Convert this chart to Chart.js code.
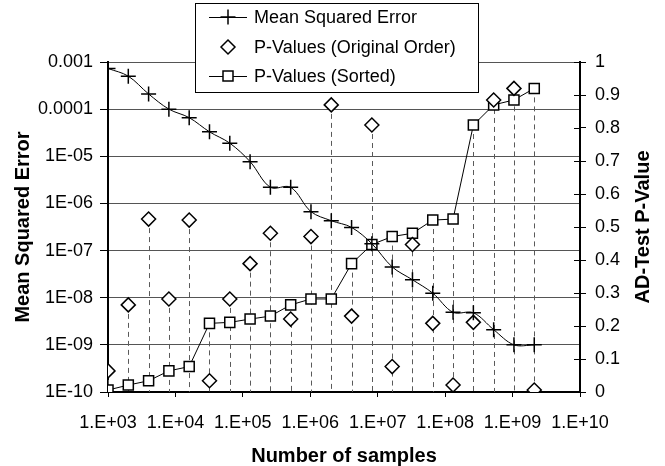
<!DOCTYPE html>
<html>
<head>
<meta charset="utf-8">
<script src="https://cdn.jsdelivr.net/npm/chart.js"></script>
<style>
	body { margin: 0; background: #fff; }
	#wrap { width: 665px; height: 466px; }
</style>
</head>
<body>
<div id="wrap"><canvas id="myChart" width="665" height="466"></canvas></div>
<script>
// number of samples (x)
const samples = [1000, 2000, 4000, 8000, 16000, 32000, 64000, 128000, 256000, 512000,
	1024000, 2048000, 4096000, 8192000, 16384000, 32768000, 65536000, 131072000,
	262144000, 524288000, 1048576000, 2097152000];

// left axis series
const mse = [7.3e-4, 5.0e-4, 2.1e-4, 1.0e-4, 6.6e-5, 3.3e-5, 1.9e-5, 7.7e-6, 2.2e-6, 2.2e-6,
	6.7e-7, 4.3e-7, 3.1e-7, 1.4e-7, 4.5e-8, 2.4e-8, 1.25e-8, 4.9e-9, 4.8e-9, 2.1e-9,
	1.0e-9, 1.0e-9];

// right axis series
const pOriginal = [0.064, 0.264, 0.524, 0.282, 0.521, 0.034, 0.282, 0.389, 0.481, 0.221,
	0.471, 0.870, 0.230, 0.809, 0.077, 0.447, 0.208, 0.021, 0.211, 0.885, 0.920, 0.006];
const pSorted = [0.006, 0.021, 0.034, 0.064, 0.077, 0.208, 0.211, 0.221, 0.230, 0.264,
	0.282, 0.282, 0.389, 0.447, 0.471, 0.481, 0.521, 0.524, 0.809, 0.870, 0.885, 0.920];

// tick values and labels
const xTicks = [1e3, 1e4, 1e5, 1e6, 1e7, 1e8, 1e9, 1e10];
const xTickLabels = ["1.E+03", "1.E+04", "1.E+05", "1.E+06", "1.E+07", "1.E+08", "1.E+09", "1.E+10"];
const yTicks = [1e-10, 1e-9, 1e-8, 1e-7, 1e-6, 1e-5, 1e-4, 1e-3];
const yTickLabels = ["1E-10", "1E-09", "1E-08", "1E-07", "1E-06", "1E-05", "0.0001", "0.001"];

const seriesNames = ["Mean Squared Error", "P-Values (Original Order)", "P-Values (Sorted)"];
const rightTitle = "AD-Test P-Value";

const FONT = "'Liberation Sans', Arial, sans-serif";

const toPoints = (ys) => ys.map((y, i) => ({ x: samples[i], y: y }));

// dashed drop lines from the higher p-value down to the axis
const dropLines = {
	id: "dropLines",
	beforeDatasetsDraw(chart) {
		const { ctx, scales } = chart;
		ctx.save();
		ctx.strokeStyle = "#5a5a5a";
		ctx.lineWidth = 1;
		ctx.setLineDash([5, 4]);
		samples.forEach((s, i) => {
			const px = Math.round(scales.x.getPixelForValue(s)) + 0.5;
			const top = scales.y2.getPixelForValue(Math.max(pOriginal[i], pSorted[i]));
			const bottom = scales.y2.getPixelForValue(0);
			ctx.beginPath();
			ctx.moveTo(px, top);
			ctx.lineTo(px, bottom);
			ctx.stroke();
		});
		ctx.restore();
	},
	afterDraw(chart) {
		const { ctx, scales } = chart;
		ctx.save();
		// inner half of the right axis tick marks
		ctx.strokeStyle = "#000";
		ctx.lineWidth = 1;
		scales.y2.ticks.forEach((t) => {
			const py = Math.round(scales.y2.getPixelForValue(t.value)) + 0.5;
			ctx.beginPath();
			ctx.moveTo(scales.y2.left - 6, py);
			ctx.lineTo(scales.y2.left, py);
			ctx.stroke();
		});
		// right axis title, reading upwards like the left one
		ctx.translate(643, (chart.chartArea.top + chart.chartArea.bottom) / 2);
		ctx.rotate(-Math.PI / 2);
		ctx.fillStyle = "#000";
		ctx.font = "bold 20px " + FONT;
		ctx.textAlign = "center";
		ctx.textBaseline = "middle";
		ctx.fillText(rightTitle, 0, 0);
		ctx.restore();
	},
};

function drawMarker(ctx, style, x, y) {
	ctx.beginPath();
	if (style === "cross") {
		ctx.moveTo(x - 7.5, y); ctx.lineTo(x + 7.5, y);
		ctx.moveTo(x, y - 7.5); ctx.lineTo(x, y + 7.5);
		ctx.stroke();
	} else if (style === "rectRot") {
		ctx.moveTo(x - 7, y); ctx.lineTo(x, y - 7); ctx.lineTo(x + 7, y); ctx.lineTo(x, y + 7);
		ctx.closePath();
		ctx.fill(); ctx.stroke();
	} else {
		ctx.rect(x - 5, y - 5, 10, 10);
		ctx.fill(); ctx.stroke();
	}
}

// boxed legend sitting over the top of the plot
const boxLegend = {
	id: "boxLegend",
	afterDraw(chart) {
		const { ctx } = chart;
		ctx.save();
		ctx.fillStyle = "#fff";
		ctx.strokeStyle = "#000";
		ctx.lineWidth = 1;
		ctx.fillRect(195, 3, 283, 89);
		ctx.strokeRect(195.5, 3.5, 283, 89);
		const rows = [17, 47, 76];
		chart.data.datasets.forEach((ds, i) => {
			const y = rows[i];
			ctx.strokeStyle = "#000";
			ctx.fillStyle = "#fff";
			ctx.lineWidth = 1;
			if (ds.showLine !== false) {
				ctx.beginPath();
				ctx.moveTo(209, y + 0.5);
				ctx.lineTo(247, y + 0.5);
				ctx.stroke();
			}
			ctx.lineWidth = 1.5;
			drawMarker(ctx, ds.pointStyle, 228, y);
			ctx.fillStyle = "#000";
			ctx.font = "18px " + FONT;
			ctx.textBaseline = "middle";
			ctx.fillText(ds.label, 254, y + 1);
		});
		ctx.restore();
	},
};

const ctx = document.getElementById("myChart");

new Chart(ctx, {
	type: "line",
	data: {
		datasets: [
			{
				label: seriesNames[0],
				data: toPoints(mse),
				yAxisID: "y",
				borderColor: "#000",
				borderWidth: 1,
				tension: 0.35,
				pointStyle: "cross",
				pointRadius: 7.5,
				pointBorderWidth: 1.5,
				pointBorderColor: "#000",
			},
			{
				label: seriesNames[1],
				data: toPoints(pOriginal),
				yAxisID: "y2",
				showLine: false,
				pointStyle: "rectRot",
				pointRadius: 7,
				pointBorderWidth: 1.5,
				pointBorderColor: "#000",
				pointBackgroundColor: "#fff",
			},
			{
				label: seriesNames[2],
				data: toPoints(pSorted),
				yAxisID: "y2",
				borderColor: "#000",
				borderWidth: 1,
				tension: 0,
				pointStyle: "rect",
				pointRadius: 7.1,
				pointBorderWidth: 1.5,
				pointBorderColor: "#000",
				pointBackgroundColor: "#fff",
			},
		],
	},
	options: {
		responsive: false,
		animation: false,
		layout: { padding: { top: 62 } },
		plugins: {
			legend: { display: false },
			tooltip: { enabled: false },
		},
		scales: {
			x: {
				type: "logarithmic",
				position: "bottom",
				min: 1e3,
				max: 1e10,
				afterBuildTicks: (scale) => {
					scale.ticks = xTicks.map((v) => ({ value: v }));
				},
				afterFit: (scale) => {
					scale.height = 74;
				},
				ticks: {
					color: "#000",
					font: { family: FONT, size: 18 },
					padding: 15,
					maxRotation: 0,
					autoSkip: false,
					callback: (v, i) => xTickLabels[i],
				},
				grid: { drawOnChartArea: false, tickLength: 5, tickColor: "#000" },
				border: { color: "#000", width: 2 },
				title: {
					display: true,
					text: "Number of samples",
					color: "#000",
					font: { family: FONT, size: 20, weight: "bold", lineHeight: 1.1 },
					padding: { top: 0, bottom: -1 },
				},
			},
			y: {
				type: "logarithmic",
				position: "left",
				min: 1e-10,
				max: 1e-3,
				afterBuildTicks: (scale) => {
					scale.ticks = yTicks.map((v) => ({ value: v }));
				},
				afterFit: (scale) => {
					scale.width = 108;
				},
				ticks: {
					color: "#000",
					font: { family: FONT, size: 18 },
					padding: 7,
					autoSkip: false,
					callback: (v, i) => yTickLabels[i],
				},
				grid: { color: "#555", lineWidth: 1, tickLength: 8, tickColor: "#000" },
				border: { color: "#000", width: 2 },
				title: {
					display: true,
					text: "Mean Squared Error",
					color: "#000",
					font: { family: FONT, size: 20, weight: "bold", lineHeight: 1.2 },
					padding: { top: 11, bottom: 0 },
				},
			},
			y2: {
				type: "linear",
				position: "right",
				min: 0,
				max: 1,
				afterFit: (scale) => {
					scale.width = 85;
				},
				ticks: {
					stepSize: 0.1,
					color: "#000",
					font: { family: FONT, size: 18 },
					padding: 9,
					callback: (v) => String(parseFloat(Number(v).toFixed(1))),
				},
				grid: { drawOnChartArea: false, tickLength: 6, tickColor: "#000" },
				border: { color: "#000", width: 2 },
			},
		},
	},
	plugins: [dropLines, boxLegend],
});
</script>
</body>
</html>
